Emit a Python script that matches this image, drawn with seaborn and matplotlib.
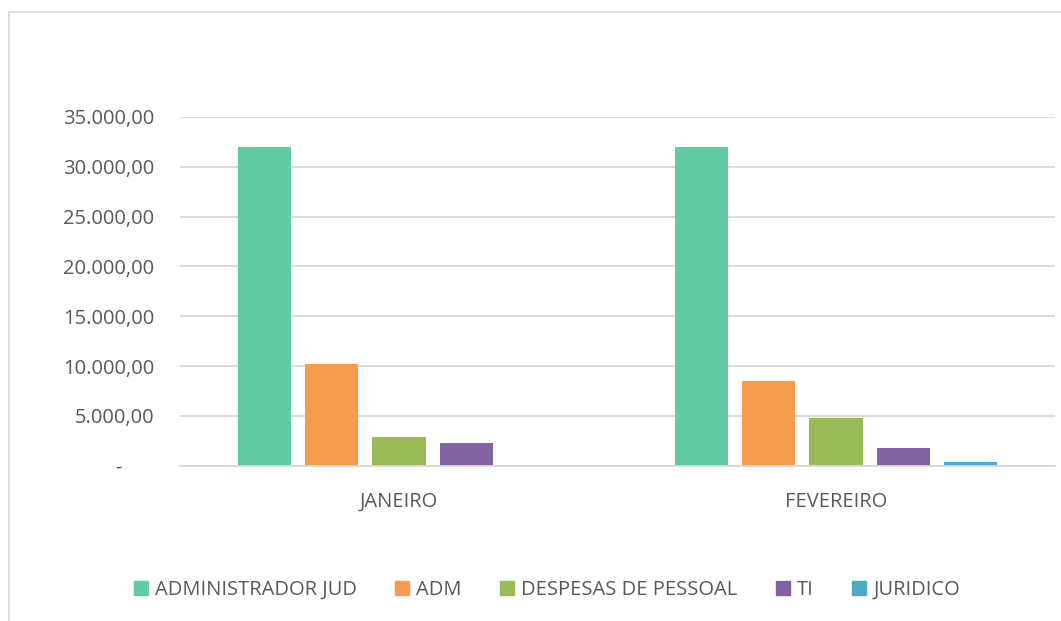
import pandas as pd
import seaborn as sns
import matplotlib.pyplot as plt
from matplotlib.ticker import FuncFormatter
from matplotlib.patches import Rectangle
from matplotlib.lines import Line2D

# Chart data
MESES = ['JANEIRO', 'FEVEREIRO']
SETORES = ['ADMINISTRADOR JUD', 'ADM', 'DESPESAS DE PESSOAL', 'TI', 'JURIDICO']
JANEIRO = [31950, 10170, 2880, 2250, 0]
FEVEREIRO = [31950, 8500, 4750, 1750, 370]
CORES = ['#63CBA3', '#F79B4C', '#9BBB59', '#8064A2', '#4BACC6']

TEXT = '#595959'
GRID = '#D9D9D9'


def fmt_brl(v, pos):
    """Format ticks like Excel pt-BR accounting: 35.000,00 and '-' for zero."""
    if abs(v) < 1e-9:
        return '-      '
    s = f"{v:,.2f}"
    return s.replace(',', 'X').replace('.', ',').replace('X', '.')


def main():
    rows = []
    for mes, vals in zip(MESES, [JANEIRO, FEVEREIRO]):
        for setor, v in zip(SETORES, vals):
            rows.append({'Mes': mes, 'Setor': setor, 'Valor': v})
    df = pd.DataFrame(rows)

    sns.set_style('white')
    plt.rcParams['font.family'] = ['Open Sans', 'DejaVu Sans']

    fig = plt.figure(figsize=(10.61, 6.21), dpi=100)
    ax = fig.add_axes([0.1700, 0.250, 0.8240, 0.5616])

    sns.barplot(data=df, x='Mes', y='Valor', hue='Setor', hue_order=SETORES,
                palette=CORES, width=0.77, gap=0.21, ax=ax, legend=False,
                saturation=1, edgecolor='none')

    ax.set_ylim(0, 35000)
    ax.set_xlim(-0.5, 1.5)
    ax.set_yticks(range(0, 35001, 5000))
    ax.yaxis.set_major_formatter(FuncFormatter(fmt_brl))
    ax.yaxis.grid(True, color=GRID, linewidth=1.3)
    ax.set_axisbelow(True)
    for side in ['top', 'right', 'left']:
        ax.spines[side].set_visible(False)
    ax.spines['bottom'].set_color(GRID)
    ax.spines['bottom'].set_linewidth(1.3)
    ax.tick_params(axis='both', length=0, labelsize=14.5, colors=TEXT)
    ax.tick_params(axis='y', pad=19)
    ax.tick_params(axis='x', pad=19)
    ax.set_xlabel('')
    ax.set_ylabel('')

    handles = [Line2D([0], [0], marker='s', linestyle='none', markersize=10,
                      markerfacecolor=c, markeredgecolor=c) for c in CORES]
    fig.legend(handles, SETORES, loc='center', bbox_to_anchor=(0.5155, 0.050),
               ncol=5, frameon=False, fontsize=14.5, labelcolor=TEXT,
               handlelength=0.7, handletextpad=0.35, columnspacing=1.9)

    # Outer chart border
    fig.patches.append(Rectangle((9 / 1061, -0.01), 1.0, 1 - 12 / 621 + 0.01,
                                 transform=fig.transFigure, fill=False,
                                 edgecolor=GRID, linewidth=1.2))

    fig.savefig('out.png', dpi=100)


if __name__ == '__main__':
    main()
